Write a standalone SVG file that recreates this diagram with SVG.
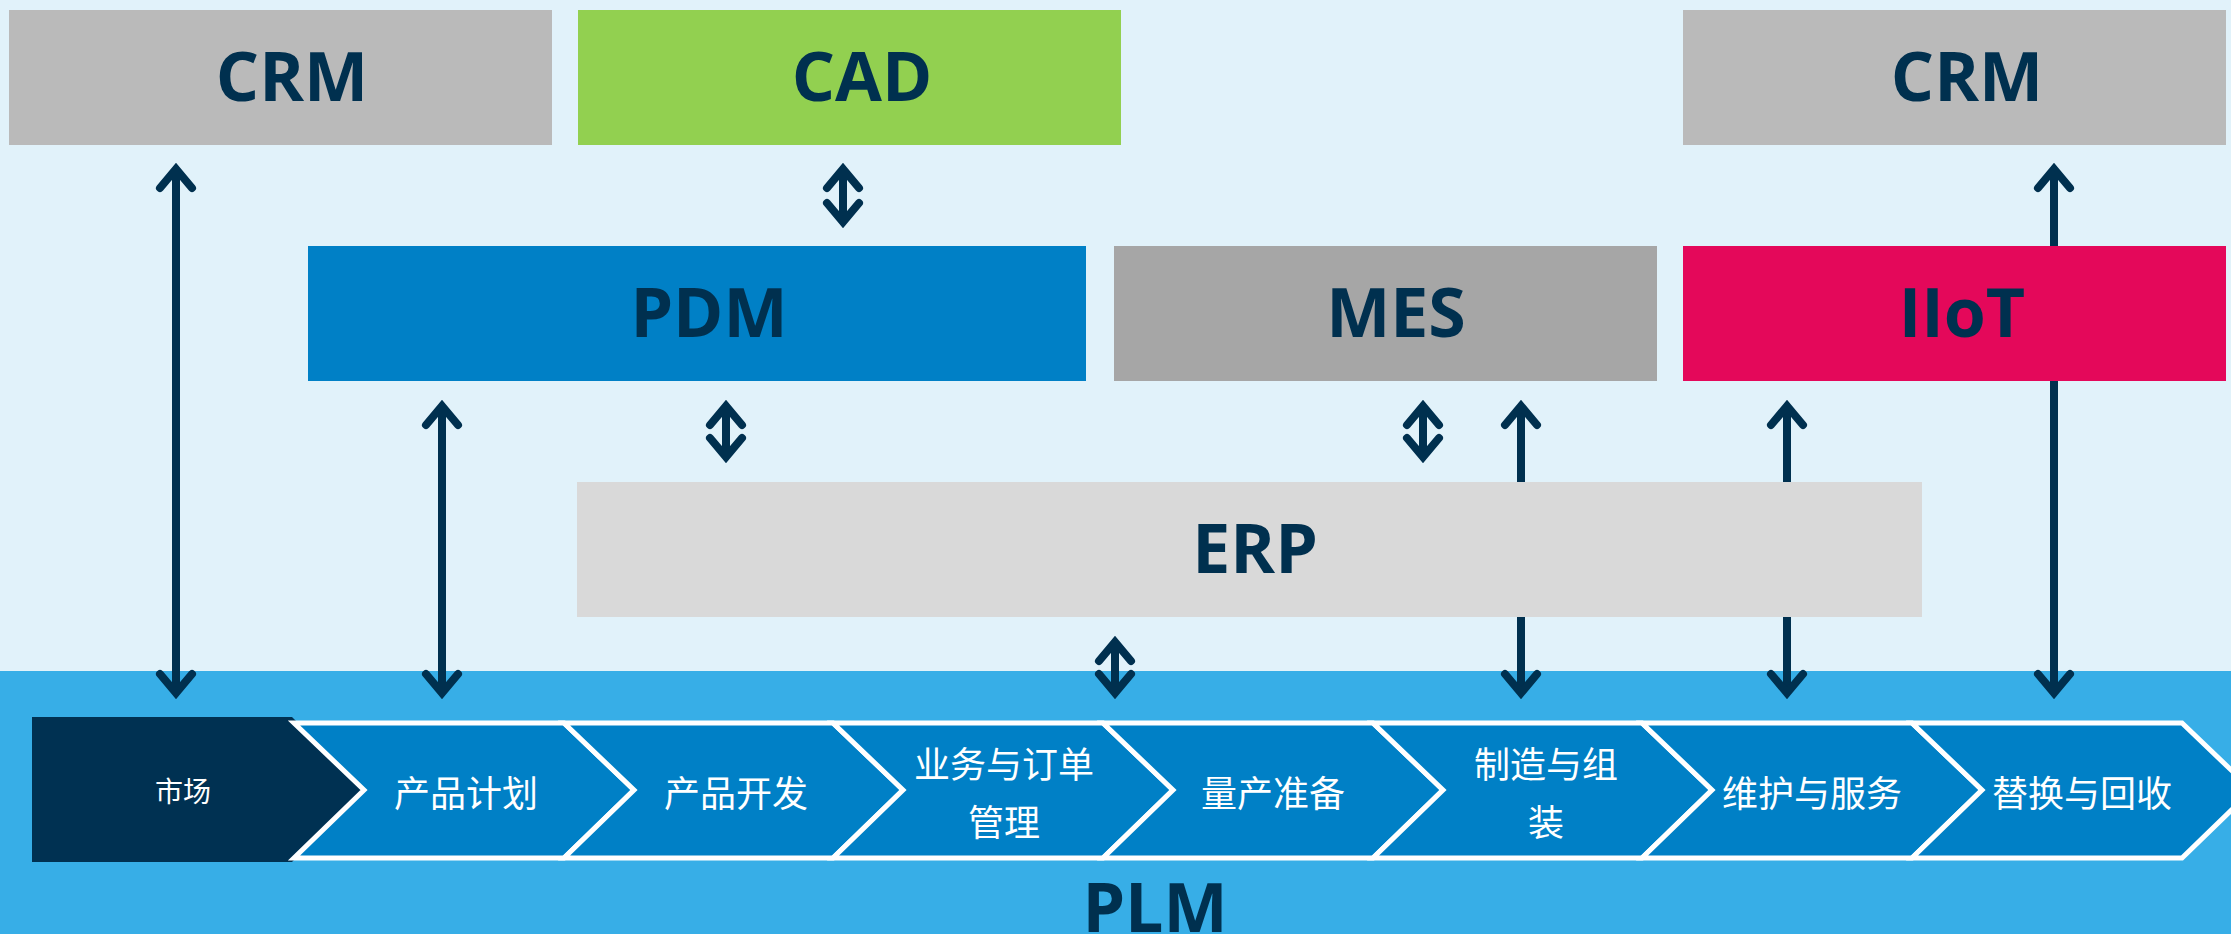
<svg xmlns="http://www.w3.org/2000/svg" width="2231" height="934" viewBox="0 0 2231 934">
  <defs>
    <style>
      .box-label { font-family: "Open Sans", "Liberation Sans", sans-serif; font-weight: 700; font-size: 68px; fill: #00304F; text-anchor: middle; }
      .step { font-family: "Noto Sans CJK SC", "Noto Sans", sans-serif; font-size: 36px; fill: #FFFFFF; text-anchor: middle; dominant-baseline: central; }
      .chev { fill: #0080C6; stroke: #FFFFFF; stroke-width: 5; stroke-linejoin: miter; }
      .conn { stroke: #00304F; stroke-width: 8; fill: none; marker-start: url(#ah); marker-end: url(#ah); }
    </style>
    <marker id="ah" markerUnits="userSpaceOnUse" orient="auto-start-reverse" overflow="visible" markerWidth="1" markerHeight="1" refX="0" refY="0">
      <path d="M-19,-16 L0,0 L-19,16" fill="none" stroke="#00304F" stroke-width="8" stroke-linecap="round" stroke-linejoin="miter"/>
    </marker>
  </defs>

  <g id="background">
    <rect x="0" y="0" width="2231" height="671" fill="#E1F2FA"/>
    <rect x="0" y="671" width="2231" height="263" fill="#37AEE7"/>
  </g>

  <g id="connectors">
    <line class="conn" x1="176" y1="169" x2="176" y2="693"/>
    <line class="conn" x1="442" y1="406" x2="442" y2="693"/>
    <line class="conn" x1="843" y1="169" x2="843" y2="222"/>
    <line class="conn" x1="726" y1="406" x2="726" y2="457"/>
    <line class="conn" x1="1423" y1="406" x2="1423" y2="457"/>
    <line class="conn" x1="1521" y1="406" x2="1521" y2="693"/>
    <line class="conn" x1="1787" y1="406" x2="1787" y2="693"/>
    <line class="conn" x1="1115" y1="642" x2="1115" y2="693"/>
    <line class="conn" x1="2054" y1="169" x2="2054" y2="693"/>
  </g>

  <g id="crm-left">
    <rect x="9" y="10" width="543" height="135" fill="#BABABA"/>
    <text class="box-label" x="292" y="101">CRM</text>
  </g>
  <g id="cad">
    <rect x="578" y="10" width="543" height="135" fill="#92D050"/>
    <text class="box-label" x="862" y="101">CAD</text>
  </g>
  <g id="crm-right">
    <rect x="1683" y="10" width="543" height="135" fill="#BABABA"/>
    <text class="box-label" x="1967" y="101">CRM</text>
  </g>
  <g id="pdm">
    <rect x="308" y="246" width="778" height="135" fill="#0080C6"/>
    <text class="box-label" x="709" y="337">PDM</text>
  </g>
  <g id="mes">
    <rect x="1114" y="246" width="543" height="135" fill="#A6A6A6"/>
    <text class="box-label" x="1396" y="337">MES</text>
  </g>
  <g id="iiot">
    <rect x="1683" y="246" width="543" height="135" fill="#E4085A"/>
    <text class="box-label" x="1962" y="337">IIoT</text>
  </g>
  <g id="erp">
    <rect x="577" y="482" width="1345" height="135" fill="#D9D9D9"/>
    <text class="box-label" x="1255" y="573">ERP</text>
  </g>

  <g id="market">
    <polygon points="32,717 292,717 366,790 292,862 32,862" fill="#003152"/>
    <text class="step" x="183" y="790" style="font-size:28px">市场</text>
  </g>
  <g id="step1">
    <polygon class="chev" points="294,723 564,723 634,790 564,858 294,858 364,790"/>
    <text class="step" x="466" y="791">产品计划</text>
  </g>
  <g id="step2">
    <polygon class="chev" points="564,723 833,723 903,790 833,858 564,858 634,790"/>
    <text class="step" x="736" y="791">产品开发</text>
  </g>
  <g id="step3">
    <polygon class="chev" points="833,723 1103,723 1173,790 1103,858 833,858 903,790"/>
    <text class="step" x="1004" y="762">业务与订单</text>
    <text class="step" x="1004" y="820">管理</text>
  </g>
  <g id="step4">
    <polygon class="chev" points="1103,723 1373,723 1443,790 1373,858 1103,858 1173,790"/>
    <text class="step" x="1273" y="791">量产准备</text>
  </g>
  <g id="step5">
    <polygon class="chev" points="1373,723 1642,723 1712,790 1642,858 1373,858 1443,790"/>
    <text class="step" x="1546" y="762">制造与组</text>
    <text class="step" x="1546" y="820">装</text>
  </g>
  <g id="step6">
    <polygon class="chev" points="1642,723 1912,723 1982,790 1912,858 1642,858 1712,790"/>
    <text class="step" x="1812" y="791">维护与服务</text>
  </g>
  <g id="step7">
    <polygon class="chev" points="1912,723 2182,723 2252,790 2182,858 1912,858 1982,790"/>
    <text class="step" x="2082" y="791">替换与回收</text>
  </g>

  <g id="plm">
    <text class="box-label" x="1155" y="932">PLM</text>
  </g>
</svg>
